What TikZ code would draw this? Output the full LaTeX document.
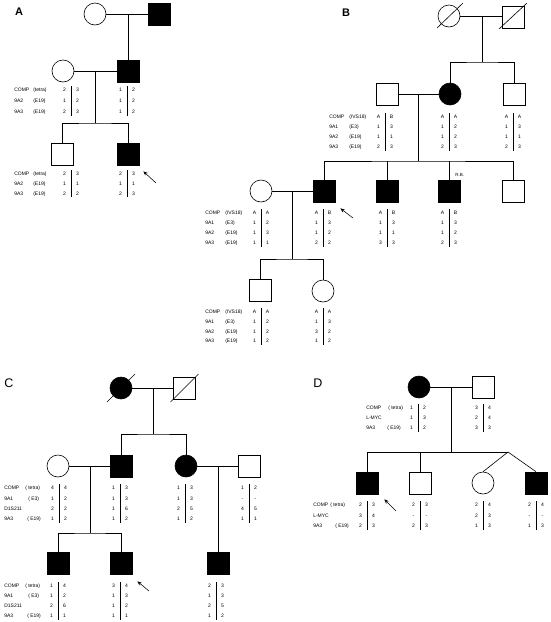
\documentclass[tikz,border=0pt]{standalone}
\usepackage{fontspec}
\setmainfont{Liberation Sans}
\usetikzlibrary{arrows.meta,calc}
\tikzset{
 fem/.style={circle,draw,minimum size=22pt,inner sep=0pt},
 mal/.style={rectangle,draw,minimum size=22pt,inner sep=0pt},
 aff/.style={fill=black},
 num/.style={font=\fontsize{5}{6}\selectfont,inner sep=0pt,anchor=base},
 lab/.style={font=\fontsize{5}{6}\selectfont,inner sep=0pt,anchor=base west},
 bar/.style={line width=0.7pt},
 panelb/.style={font=\bfseries\fontsize{11}{13}\selectfont,inner sep=0pt},
 panelr/.style={font=\fontsize{12.5}{14}\selectfont,inner sep=0pt},
 pointer/.style={-{Stealth[length=4.5pt,width=3.5pt]},line width=0.55pt},
}
\newcommand\geno[5]{%
  \foreach \genA/\genB [count=\genI] in {#5}{%
    \node[num] (#1l\genI) at ({#2-6.5},{#3+#4*(\genI-1)+1.8}) {\genA};
    \node[num] (#1r\genI) at ({#2+6.5},{#3+#4*(\genI-1)+1.8}) {\genB};
    \xdef\genLast{\genI}%
  }%
  \draw[bar] (#2,{#3-4}) -- (#2,{#3+#4*(\genLast-1)+4});%
}
\newcommand\labs[5]{%
  \foreach \labA/\labB/\labO [count=\labI] in {#5}{%
    \node[lab] (#1a\labI) at (#2,{#3+#4*(\labI-1)+1.8}) {\labA};
    \node[lab] (#1b\labI) at ({#2+\labO},{#3+#4*(\labI-1)+1.8}) {\labB};
  }%
}
\begin{document}
\begin{tikzpicture}[x=1pt,y=-1pt,line width=0.6pt]
\useasboundingbox (0,0) rectangle (550,622);
% ================= Panel A =================
\node[panelb] (pA) at (19,12) {A};
\node[fem] (a1) at (95,14) {};
\node[mal,aff] (a2) at (159,14) {};
\draw (a1) -- (a2);
\coordinate (a12) at (128,14);
\node[fem] (a3) at (63,71) {};
\node[mal,aff] (a4) at (128,71) {};
\draw (a12) -- (a4.north);
\draw (a3) -- (a4);
\coordinate (a34) at (95,71);
\coordinate (a34s) at (95,123);
\node[mal] (a5) at (62,154) {};
\node[mal,aff] (a6) at (128,154) {};
\draw (a34) -- (a34s);
\draw (a5.north) |- (a34s) -| (a6.north);
\labs{Ag2}{14}{90}{11}{COMP/(tetra)/19, 9A2/(E19)/19, 9A3/(E19)/19}
\geno{Aa3}{71}{90}{11}{2/3,1/2,2/3}
\geno{Aa4}{127}{90}{11}{1/2,1/2,1/2}
\labs{Ag3}{14}{174}{9.6}{COMP/(tetra)/19, 9A2/(E19)/19, 9A3/(E19)/19}
\geno{Aa5}{71}{174}{9.6}{2/3,1/1,2/2}
\geno{Aa6}{127}{174}{9.6}{2/3,1/1,2/3}
\coordinate (aArr) at (156,183);
\coordinate (aTip) at ([shift={(4,6)}]a6.south east);
\draw[pointer] (aArr) -- (aTip);
% ================= Panel B =================
\node[panelb] (pB) at (346,13) {B};
\node[fem] (b1) at (449,16) {};
\node[mal] (b2) at (513,17) {};
\draw ([shift={(-12,12)}]b1.center) -- ([shift={(14,-13)}]b1.center);
\draw ([shift={(-14,12)}]b2.center) -- ([shift={(14,-14)}]b2.center);
\draw (b1) -- (b1 -| b2.west);
\coordinate (b12) at (482,16);
\coordinate (b12s) at (482,62);
\node[mal] (b3) at (387,94) {};
\node[fem,aff] (b4) at (450,94) {};
\node[mal] (b5) at (514,94) {};
\draw (b12) -- (b12s);
\draw (b4.north) |- (b12s) -| (b5.north);
\draw (b3) -- (b4);
\coordinate (b34) at (418,94);
\coordinate (b34s) at (418,161);
\draw (b34) -- (b34s);
\node[mal,aff] (b6) at (324,191) {};
\node[mal,aff] (b7) at (387,191) {};
\node[mal,aff] (b8) at (449,191) {};
\node[mal] (b9) at (513,191) {};
\node[fem] (b10) at (261,191) {};
\draw (b6.north) |- (b34s) -| (b9.north);
\draw (b7.north) -- (b7.north |- b34s);
\draw (b8.north) -- (b8.north |- b34s);
\node[lab,font=\fontsize{4.5}{5}\selectfont] (rb) at (455,176) {R.B.};
\draw (b10) -- (b6);
\coordinate (b106) at (292,191);
\coordinate (b106s) at (292,259);
\draw (b106) -- (b106s);
\node[mal] (b11) at (260,290) {};
\node[fem] (b12) at (323,291) {};
\draw (b11.north) |- (b106s) -| (b12.north);
% data B
\labs{Bg2}{329}{117}{10}{COMP/(IVS18)/20, 9A1/(E3)/20, 9A2/(E19)/20, 9A3/(E19)/20}
\geno{Bb3}{385}{117}{10}{A/B,1/3,1/1,2/3}
\geno{Bb4}{449}{117}{10}{A/A,1/2,1/2,2/3}
\geno{Bb5}{513}{117}{10}{A/A,1/3,1/1,2/3}
\labs{Bg3}{205}{213}{10}{COMP/(IVS18)/20, 9A1/(E3)/20, 9A2/(E19)/20, 9A3/(E19)/20}
\geno{Bb10}{261}{213}{10}{A/A,1/2,1/3,1/1}
\geno{Bb6}{323}{213}{10}{A/B,1/3,1/2,2/2}
\geno{Bb7}{387}{213}{10}{A/B,1/3,1/1,3/3}
\geno{Bb8}{449}{213}{10}{A/B,1/3,1/2,2/3}
\labs{Bg4}{205}{312}{9.7}{COMP/(IVS18)/20, 9A1/(E3)/20, 9A2/(E19)/20, 9A3/(E19)/20}
\geno{Bb11}{261}{312}{9.7}{A/A,1/2,1/2,1/2}
\geno{Bb12}{323}{312}{9.7}{A/A,1/3,3/2,1/2}
\coordinate (bArr) at (353,218);
\coordinate (bTip) at ([shift={(5,6)}]b6.south east);
\draw[pointer] (bArr) -- (bTip);
% ================= Panel C =================
\node[panelr] (pC) at (9,383) {C};
\node[fem,aff] (c1) at (121,388) {};
\node[mal] (c2) at (184.5,388) {};
\draw ([shift={(-14,14)}]c1.center) -- ([shift={(14,-14)}]c1.center);
\draw ([shift={(-14,14)}]c2.center) -- ([shift={(14,-14)}]c2.center);
\draw (c1) -- (c2);
\coordinate (c12) at (153,388);
\coordinate (c12s) at (153,434);
\draw (c12) -- (c12s);
\node[fem] (c3) at (58,466) {};
\node[mal,aff] (c4) at (121,466) {};
\node[fem,aff] (c5) at (186,466) {};
\node[mal] (c6) at (249,466) {};
\draw (c4.north) |- (c12s) -| (c5.north);
\draw (c3) -- (c4);
\draw (c5) -- (c6);
\coordinate (c34) at (90,466);
\coordinate (c34s) at (90,533);
\draw (c34) -- (c34s);
\node[mal,aff] (c7) at (58,563) {};
\node[mal,aff] (c8) at (121,563) {};
\draw (c7.north) |- (c34s) -| (c8.north);
\node[mal,aff] (c9) at (218,563) {};
\coordinate (c56) at (218,466);
\draw (c56) -- (c9.north);
\labs{Cg2}{4}{488}{10.3}{COMP/{( tetra)}/21, 9A1/{( E3)}/24, D1S211/{}/0, 9A3/{( E19)}/23}
\geno{Cc3}{59}{488}{10.3}{4/4,1/2,2/2,1/2}
\geno{Cc4}{120}{488}{10.3}{1/3,1/3,1/6,1/2}
\geno{Cc5}{185}{488}{10.3}{1/3,1/3,2/5,1/2}
\geno{Cc6}{249}{488}{10.3}{1/2,-/-,4/5,1/1}
\labs{Cg3}{4}{586}{10}{COMP/{( tetra)}/21, 9A1/{( E3)}/24, D1S211/{}/0, 9A3/{( E19)}/23}
\geno{Cc7}{58}{586}{10}{1/4,1/2,2/6,1/1}
\geno{Cc8}{120}{586}{10}{3/4,1/3,1/2,1/1}
\geno{Cc9}{216}{586}{10}{2/3,1/3,2/5,1/2}
\coordinate (cArr) at (149,591);
\coordinate (cTip) at ([shift={(5,7)}]c8.south east);
\draw[pointer] (cArr) -- (cTip);
% ================= Panel D =================
\node[panelr] (pD) at (318,383) {D};
\node[fem,aff] (d1) at (419,387) {};
\node[mal] (d2) at (483,387) {};
\draw (d1) -- (d2);
\coordinate (d12) at (451,387);
\coordinate (d12s) at (451,452);
\draw (d12) -- (d12s);
\node[mal,aff] (d3) at (367,483) {};
\node[mal] (d4) at (420,483) {};
\node[fem] (d5) at (483,483) {};
\node[mal,aff] (d6) at (536,483) {};
\coordinate (dtw) at (508,452);
\draw (d3.north) |- (dtw);
\draw (d4.north) -- (d4.north |- dtw);
\draw (d5.north) -- (dtw) -- (d6.north);
\labs{Dg1}{366}{408}{10}{COMP/{( tetra)}/22, L-MYC/{}/0, 9A3/{( E19)}/21}
\geno{Dd1}{418}{408}{10}{1/2,1/3,1/2}
\geno{Dd2}{483}{408}{10}{3/4,2/4,3/3}
\labs{Dg2}{313}{505}{10.5}{COMP/{( tetra)}/17, L-MYC/{}/0, 9A3/{( E19)}/22}
\geno{Dd3}{367}{505}{10.5}{2/3,3/4,2/3}
\geno{Dd4}{420}{505}{10.5}{2/3,-/-,2/3}
\geno{Dd5}{483}{505}{10.5}{2/4,2/3,1/3}
\geno{Dd6}{536}{505}{10.5}{2/4,-/-,1/3}
\coordinate (dArr) at (396,511);
\coordinate (dTip) at ([shift={(6,5)}]d3.south east);
\draw[pointer] (dArr) -- (dTip);
\end{tikzpicture}
\end{document}
